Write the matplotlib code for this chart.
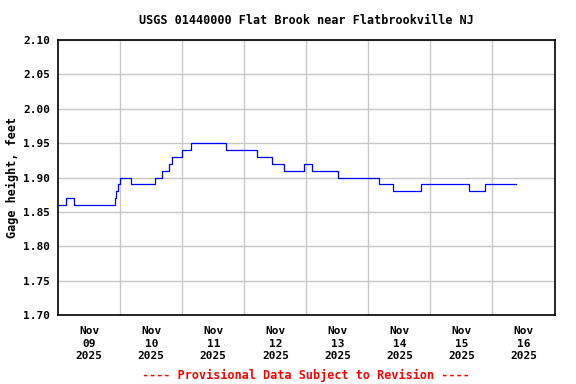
import matplotlib
matplotlib.use('Agg')
import matplotlib.pyplot as plt
import numpy as np
from datetime import datetime, timedelta

# step change points (time, gage height in feet), 15-minute data
times = ['2025-11-09 00:00', '2025-11-09 03:00', '2025-11-09 06:15',
         '2025-11-09 21:45', '2025-11-09 22:30', '2025-11-09 23:00',
         '2025-11-09 23:45', '2025-11-10 04:15', '2025-11-10 13:30',
         '2025-11-10 16:00', '2025-11-10 19:00', '2025-11-10 20:00',
         '2025-11-11 00:00', '2025-11-11 03:30', '2025-11-11 16:45',
         '2025-11-12 05:00', '2025-11-12 10:45', '2025-11-12 15:30',
         '2025-11-12 23:00', '2025-11-13 02:00', '2025-11-13 12:15',
         '2025-11-14 04:00', '2025-11-14 09:30', '2025-11-14 20:30',
         '2025-11-15 14:45', '2025-11-15 21:00', '2025-11-16 09:15']
heights = [1.86, 1.87, 1.86,
           1.87, 1.88, 1.89,
           1.90, 1.89, 1.90,
           1.91, 1.92, 1.93,
           1.94, 1.95, 1.94,
           1.93, 1.92, 1.91,
           1.92, 1.91, 1.90,
           1.89, 1.88, 1.89,
           1.88, 1.89, 1.89]

title = 'USGS 01440000 Flat Brook near Flatbrookville NJ'
ylabel = 'Gage height, feet'
footer = '---- Provisional Data Subject to Revision ----'

mono = 'DejaVu Sans Mono'
t = [datetime.strptime(s, '%Y-%m-%d %H:%M') for s in times]
start = datetime(2025, 11, 9)
days = [start + timedelta(days=i) for i in range(9)]

fig = plt.figure(figsize=(5.76, 3.84), dpi=100)
ax = fig.add_axes([58.3 / 576, 1 - 315 / 384, (554.5 - 58.3) / 576, (315 - 40) / 384])

ax.plot(t, heights, drawstyle='steps-post', color='#0000ff', lw=0.9)

ax.set_xlim(days[0], days[-1])
ax.set_ylim(1.70, 2.10)
ax.set_yticks(np.arange(1.70, 2.101, 0.05))
ax.set_yticklabels(['%.2f' % v for v in np.arange(1.70, 2.101, 0.05)],
                   family=mono, fontweight='bold', fontsize=8)

# gridlines at midnight, labels at noon
ax.set_xticks(days[1:-1], minor=False)
ax.set_xticklabels([])
ax.set_xticks([d + timedelta(hours=12) for d in days[:-1]], minor=True)
ax.set_xticklabels([d.strftime('Nov\n%d\n%Y') for d in days[:-1]], minor=True,
                   family=mono, fontweight='bold', fontsize=8, linespacing=1.3)
ax.tick_params(axis='both', which='both', length=0, pad=6)
ax.tick_params(axis='x', which='minor', pad=8)

ax.grid(True, which='major', color='#c8c8c8', lw=1)
ax.set_axisbelow(True)
for s in ax.spines.values():
    s.set_linewidth(1.2)

ax.set_ylabel(ylabel, family=mono, fontweight='bold', fontsize=8.5, labelpad=3)
fig.text(306 / 576, 1 - 20 / 384, title, ha='center', va='center',
         family=mono, fontweight='bold', fontsize=8.5)
fig.text(306 / 576, 1 - 375 / 384, footer, ha='center', va='center',
         family=mono, fontweight='bold', fontsize=8.5, color='#ff0000')

fig.savefig('out.png', dpi=100)
